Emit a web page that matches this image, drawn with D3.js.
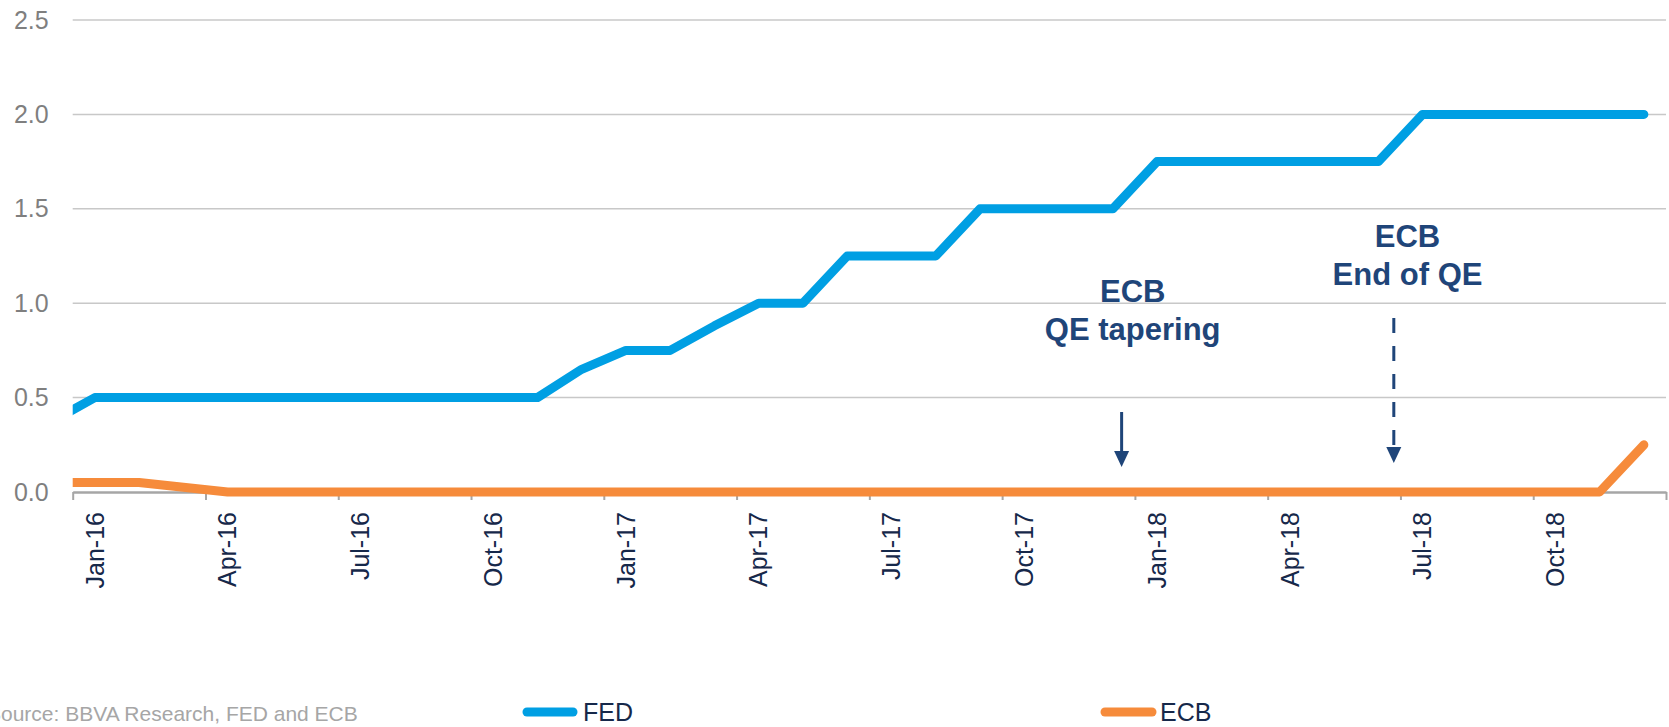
<!DOCTYPE html>
<html>
<head>
<meta charset="utf-8">
<script src="https://cdn.jsdelivr.net/npm/d3@7"></script>
<style>
  body { margin: 0; background: #fff; }
  svg { display: block; font-family: "Liberation Sans", Arial, sans-serif; }
</style>
</head>
<body>
<div id="chart"></div>
<script>
// Monthly policy rates (%). Dec-15 only feeds the lead-in that is clipped at the left edge.
const months = [
  'Dec-15',
  'Jan-16', 'Feb-16', 'Mar-16', 'Apr-16', 'May-16', 'Jun-16', 'Jul-16', 'Aug-16', 'Sep-16', 'Oct-16', 'Nov-16', 'Dec-16',
  'Jan-17', 'Feb-17', 'Mar-17', 'Apr-17', 'May-17', 'Jun-17', 'Jul-17', 'Aug-17', 'Sep-17', 'Oct-17', 'Nov-17', 'Dec-17',
  'Jan-18', 'Feb-18', 'Mar-18', 'Apr-18', 'May-18', 'Jun-18', 'Jul-18', 'Aug-18', 'Sep-18', 'Oct-18', 'Nov-18', 'Dec-18'
];
const fed = [
  0.37,
  0.5, 0.5, 0.5, 0.5, 0.5, 0.5, 0.5, 0.5, 0.5, 0.5, 0.5, 0.65,
  0.75, 0.75, 0.88, 1.0, 1.0, 1.25, 1.25, 1.25, 1.5, 1.5, 1.5, 1.5,
  1.75, 1.75, 1.75, 1.75, 1.75, 1.75, 2.0, 2.0, 2.0, 2.0, 2.0, 2.0
];
const ecb = [
  0.05,
  0.05, 0.05, 0.025, 0, 0, 0, 0, 0, 0, 0, 0, 0,
  0, 0, 0, 0, 0, 0, 0, 0, 0, 0, 0, 0,
  0, 0, 0, 0, 0, 0, 0, 0, 0, 0, 0, 0.25
];
const yTicks = [0, 0.5, 1.0, 1.5, 2.0, 2.5];
const tickMonths = ['Jan', 'Apr', 'Jul', 'Oct'];

// annotation anchors, as fractional positions along the month index
const annotations = [
  { arrowAt: 24.2, textAt: 24.45, lines: ['ECB', 'QE tapering'], dashed: false },
  { arrowAt: 30.35, textAt: 30.66, lines: ['ECB', 'End of QE'], dashed: true }
];

const colors = {
  fed: '#009fe3',
  ecb: '#f68b3b',
  grid: '#c8c8c8',
  axis: '#a6a6a6',
  yLabel: '#7f7f7f',
  xLabel: '#16284a',
  note: '#1f4579',
  source: '#a6a6a6'
};

const width = 1669, height = 727;
const plot = { left: 72.7, right: 1666, top: 20, bottom: 492 };

const svg = d3.select('#chart').append('svg')
  .attr('width', width)
  .attr('height', height);

const x = d3.scaleLinear().domain([0.5, months.length - 0.5]).range([plot.left, plot.right]);
const y = d3.scaleLinear().domain([0, 2.5]).range([plot.bottom, plot.top]);

svg.append('clipPath').attr('id', 'plot-clip')
  .append('rect')
  .attr('x', plot.left).attr('y', 0)
  .attr('width', plot.right - plot.left + 10).attr('height', plot.bottom + 20);

// Gridlines
svg.append('g')
  .selectAll('line')
  .data(yTicks.filter(d => d > 0))
  .enter()
  .append('line')
  .attr('x1', plot.left).attr('x2', plot.right)
  .attr('y1', d => y(d)).attr('y2', d => y(d))
  .attr('stroke', colors.grid)
  .attr('stroke-width', 1.5);

// Y labels
const yAxis = svg.append('g')
  .attr('transform', `translate(${plot.left},0)`)
  .call(d3.axisLeft(y).tickValues(yTicks).tickFormat(d3.format('.1f')).tickSize(0).tickPadding(24));
yAxis.select('.domain').remove();
yAxis.selectAll('text')
  .attr('fill', colors.yLabel)
  .style('font-size', '25px')
  .style('font-family', '"Liberation Sans", Arial, sans-serif');

// X axis: ticks on quarter boundaries, labels on month centres
const boundaries = d3.range(0.5, months.length, 3);
const xAxis = svg.append('g')
  .attr('transform', `translate(0,${plot.bottom})`)
  .call(d3.axisBottom(x).tickValues(boundaries).tickFormat('').tickSize(8).tickSizeOuter(0));
xAxis.select('.domain').attr('stroke', colors.axis).attr('stroke-width', 2.5);
xAxis.selectAll('.tick line').attr('stroke', colors.axis).attr('stroke-width', 2);

const labelIdx = months
  .map((m, i) => i)
  .filter(i => i > 0 && tickMonths.includes(months[i].slice(0, 3)));

svg.append('g')
  .selectAll('text')
  .data(labelIdx)
  .enter()
  .append('text')
  .attr('transform', i => `translate(${x(i)},${plot.bottom + 20}) rotate(-90)`)
  .attr('dy', '0.35em')
  .attr('text-anchor', 'end')
  .attr('fill', colors.xLabel)
  .attr('font-size', '25px')
  .text(i => months[i]);

// Series
const line = d3.line()
  .x((d, i) => x(i))
  .y(d => y(d));

const series = svg.append('g').attr('clip-path', 'url(#plot-clip)');
[[ecb, colors.ecb], [fed, colors.fed]].forEach(([values, color]) => {
  series.append('path')
    .datum(values)
    .attr('d', line)
    .attr('fill', 'none')
    .attr('stroke', color)
    .attr('stroke-width', 9)
    .attr('stroke-linejoin', 'round')
    .attr('stroke-linecap', 'round');
});

// Annotations
const noteTop = [302, 247];
const arrowTop = [412, 318];
const arrowTip = [467, 463];

annotations.forEach((a, k) => {
  const g = svg.append('g');
  a.lines.forEach((t, j) => {
    g.append('text')
      .attr('x', x(a.textAt))
      .attr('y', noteTop[k] + j * 38)
      .attr('text-anchor', 'middle')
      .attr('fill', colors.note)
      .attr('font-size', '31px')
      .attr('font-weight', 'bold')
      .text(t);
  });
  const ax = x(a.arrowAt);
  g.append('line')
    .attr('x1', ax).attr('x2', ax)
    .attr('y1', arrowTop[k]).attr('y2', arrowTip[k] - 14)
    .attr('stroke', colors.note)
    .attr('stroke-width', 3)
    .attr('stroke-dasharray', a.dashed ? '15,13' : null);
  g.append('path')
    .attr('d', `M${ax - 7.5},${arrowTip[k] - 16} L${ax + 7.5},${arrowTip[k] - 16} L${ax},${arrowTip[k]} Z`)
    .attr('fill', colors.note);
});

// Legend
const legend = [
  { name: 'FED', color: colors.fed, x0: 527, x1: 573, tx: 583 },
  { name: 'ECB', color: colors.ecb, x0: 1105, x1: 1152, tx: 1160 }
];
legend.forEach(l => {
  svg.append('line')
    .attr('x1', l.x0).attr('x2', l.x1)
    .attr('y1', 712).attr('y2', 712)
    .attr('stroke', l.color)
    .attr('stroke-width', 9)
    .attr('stroke-linecap', 'round');
  svg.append('text')
    .attr('x', l.tx).attr('y', 721)
    .attr('fill', colors.xLabel)
    .attr('font-size', '25px')
    .text(l.name);
});

// Source note (cut at the left edge, as in the original)
svg.append('text')
  .attr('x', -13).attr('y', 721)
  .attr('fill', colors.source)
  .attr('font-size', '21px')
  .text('Source: BBVA Research, FED and ECB');
</script>
</body>
</html>
